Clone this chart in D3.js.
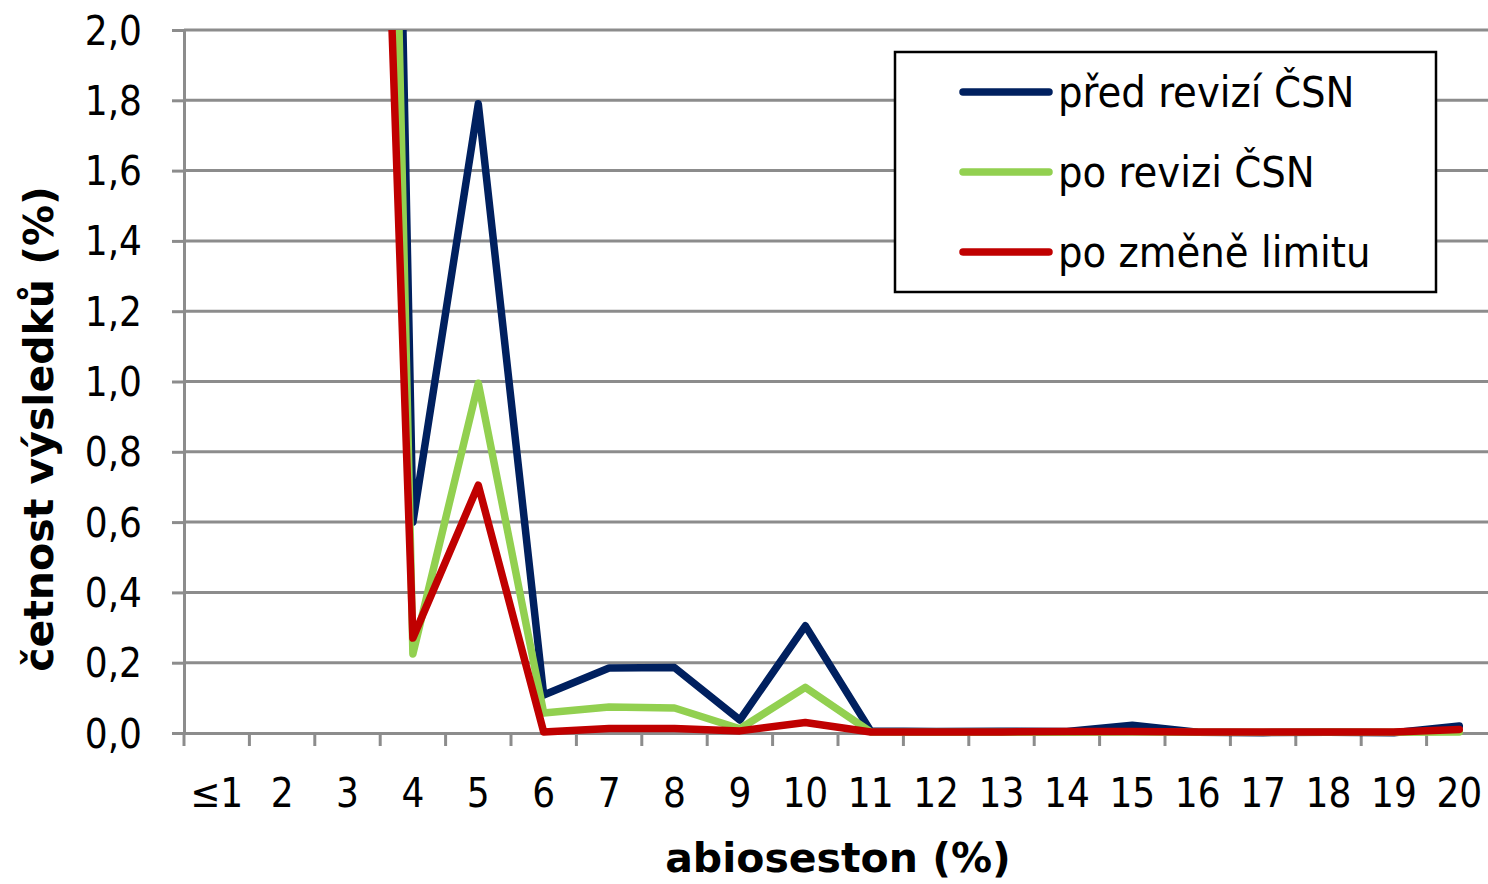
<!DOCTYPE html>
<html>
<head>
<meta charset="utf-8">
<script src="https://cdn.jsdelivr.net/npm/d3@7"></script>
<style>
  body { margin: 0; background: white; }
  text { font-family: "DejaVu Sans Condensed", "DejaVu Sans", sans-serif; font-stretch: condensed; }
  text.title { font-family: "DejaVu Sans", sans-serif; font-stretch: normal; }
</style>
</head>
<body>
<svg id="chart"></svg>
<script>
const categories = ["≤1", "2", "3", "4", "5", "6", "7", "8", "9", "10",
  "11", "12", "13", "14", "15", "16", "17", "18", "19", "20"];

// values for ≤1 .. 3 lie far above the visible range (clipped at 2,0)
const predRevizi = [40, 25, 9.8, 0.6, 1.79, 0.108, 0.185, 0.186, 0.037, 0.305,
  0.006, 0.004, 0.005, 0.004, 0.022, 0.002, 0.001, 0.002, 0.001, 0.02];
const poRevizi = [42, 26, 8.6, 0.225, 0.995, 0.057, 0.074, 0.071, 0.012, 0.13,
  0.003, 0.002, 0.002, 0.002, 0.003, 0.002, 0.002, 0.003, 0.002, 0.003];
const poZmene = [45, 28, 5.7, 0.27, 0.705, 0.003, 0.013, 0.013, 0.006, 0.03,
  0.003, 0.003, 0.003, 0.004, 0.004, 0.003, 0.003, 0.003, 0.003, 0.01];

const seriesNames = ["před revizí ČSN", "po revizi ČSN", "po změně limitu"];
const seriesColors = ["#00205f", "#92d050", "#c00000"];
const yTicks = [0, 0.2, 0.4, 0.6, 0.8, 1.0, 1.2, 1.4, 1.6, 1.8, 2.0];

const width = 1488, height = 884;
const margin = { top: 30, right: -4, bottom: 151, left: 184 };

const svg = d3.select("#chart").attr("width", width).attr("height", height);

const x = d3.scaleBand().domain(categories)
  .range([margin.left, width - margin.right]).paddingInner(0).paddingOuter(0);
const y = d3.scaleLinear().domain([0, 2]).range([height - margin.bottom, margin.top]);

const grey = "#8c8c8c";

// grid
svg.append("g")
  .selectAll("line")
  .data(yTicks.slice(1))
  .enter()
  .append("line")
  .attr("x1", margin.left)
  .attr("x2", width - margin.right)
  .attr("y1", (d) => y(d))
  .attr("y2", (d) => y(d))
  .attr("stroke", grey)
  .attr("stroke-width", 3);

// y axis
const yAxis = svg.append("g")
  .attr("transform", `translate(${margin.left},0)`)
  .call(d3.axisLeft(y).tickValues(yTicks).tickSize(12).tickPadding(30)
    .tickFormat((d) => d3.format(".1f")(d).replace(".", ",")));
yAxis.select(".domain").attr("stroke", grey).attr("stroke-width", 3);
yAxis.selectAll(".tick line").attr("stroke", grey).attr("stroke-width", 3);
yAxis.selectAll("text").attr("font-size", 40).attr("fill", "black").attr("dy", "0.35em");

// x axis
const xAxis = svg.append("g")
  .attr("transform", `translate(0,${y(0)})`)
  .call(d3.axisBottom(x).tickSize(0).tickPadding(46));
xAxis.select(".domain").attr("stroke", grey).attr("stroke-width", 3);
xAxis.selectAll("text").attr("font-size", 40).attr("fill", "black");
svg.append("g")
  .selectAll("line")
  .data(categories)
  .enter()
  .append("line")
  .attr("x1", (d) => x(d))
  .attr("x2", (d) => x(d))
  .attr("y1", y(0))
  .attr("y2", y(0) + 13)
  .attr("stroke", grey)
  .attr("stroke-width", 3);

// clip
svg.append("defs").append("clipPath").attr("id", "plot-clip")
  .append("rect")
  .attr("x", margin.left)
  .attr("y", margin.top)
  .attr("width", width - margin.left)
  .attr("height", y(0) - margin.top + 10);

const line = d3.line()
  .x((d, i) => x(categories[i]) + x.bandwidth() / 2)
  .y((d) => y(d));

const allSeries = [predRevizi, poRevizi, poZmene];

svg.append("g")
  .attr("clip-path", "url(#plot-clip)")
  .selectAll("path")
  .data(allSeries)
  .enter()
  .append("path")
  .attr("d", line)
  .attr("fill", "none")
  .attr("stroke", (d, i) => seriesColors[i])
  .attr("stroke-width", 7.5)
  .attr("stroke-linejoin", "round")
  .attr("stroke-linecap", "round");

// axis titles
svg.append("text")
  .attr("class", "title")
  .attr("x", 838)
  .attr("y", 872)
  .attr("text-anchor", "middle")
  .attr("font-size", 41)
  .attr("font-weight", "bold")
  .text("abioseston (%)");

svg.append("text")
  .attr("class", "title")
  .attr("transform", "translate(53,429) rotate(-90)")
  .attr("text-anchor", "middle")
  .attr("font-size", 41)
  .attr("font-weight", "bold")
  .text("četnost výsledků (%)");

// legend
const legend = svg.append("g");
legend.append("rect")
  .attr("x", 895)
  .attr("y", 52)
  .attr("width", 541)
  .attr("height", 240)
  .attr("fill", "white")
  .attr("stroke", "black")
  .attr("stroke-width", 2.5);

const items = legend.selectAll(".item")
  .data(seriesNames)
  .enter()
  .append("g")
  .attr("class", "item")
  .attr("transform", (d, i) => `translate(0,${92 + i * 80})`);

items.append("line")
  .attr("x1", 963)
  .attr("x2", 1049)
  .attr("stroke", (d, i) => seriesColors[i])
  .attr("stroke-width", 7.5)
  .attr("stroke-linecap", "round");

items.append("text")
  .attr("x", 1058)
  .attr("y", 15)
  .attr("font-size", 43)
  .text((d) => d);
</script>
</body>
</html>
